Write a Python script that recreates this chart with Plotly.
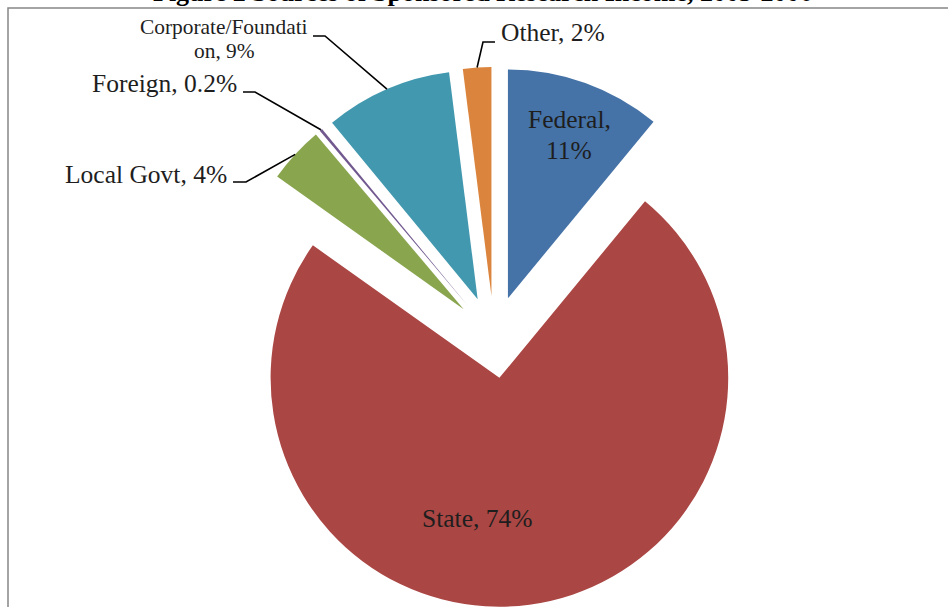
import math
import plotly.graph_objects as go

# ---- data ----
categories = ["Federal", "State", "Local Govt", "Foreign", "Corporate/Foundation", "Other"]
values = [11, 74, 4, 0.2, 9, 2]
value_labels = ["11%", "74%", "4%", "0.2%", "9%", "2%"]
colors = ["#4572A7", "#AA4643", "#89A54E", "#71588F", "#4198AF", "#DB843D"]
title_text = "Figure 2 Sources of Sponsored Research Income, 2005-2006"

# ---- layout constants ----
W, H = 948, 607
PULL = 0.18
FONT = "Liberation Serif"
TXT = "#1e1e1e"
FS = 25.5
cx_px, cy_px = 494, 337
rx_px, ry_px = 280, 270
dom_x = [(cx_px - rx_px) / W, (cx_px + rx_px) / W]
dom_y = [(H - cy_px - ry_px) / H, (H - cy_px + ry_px) / H]

def px(x, y):
    return x / W, 1 - y / H

fig = go.Figure(go.Pie(
    labels=categories, values=values, sort=False, direction="clockwise",
    rotation=0, pull=[PULL] * len(values), textinfo="none",
    marker=dict(colors=colors, line=dict(width=0)),
    domain=dict(x=dom_x, y=dom_y), showlegend=False,
    hovertemplate="%{label}: %{value}%<extra></extra>",
))

# geometry replicating plotly's pie sizing, for leader lines
r = min(rx_px, ry_px) / (1 + PULL)
total = sum(values)
cum = 0
outer = {}
for cat, v in zip(categories, values):
    mid = math.radians((cum + v / 2) / total * 360)
    cum += v
    R = (1 + PULL) * r
    outer[cat] = (cx_px + R * math.sin(mid), cy_px - R * math.cos(mid))

annotations = []
shapes = []

def label(text, x, y, xanchor="center", size=FS, align="center"):
    ax, ay = px(x, y)
    annotations.append(dict(text=text, x=ax, y=ay, xref="paper", yref="paper",
                            xanchor=xanchor, yanchor="middle", showarrow=False,
                            align=align, font=dict(family=FONT, size=size, color=TXT)))

def leader(points):
    pts = [px(x, y) for x, y in points]
    path = "M " + " L ".join(f"{a},{b}" for a, b in pts)
    shapes.append(dict(type="path", path=path, xref="paper", yref="paper",
                       line=dict(color="#000000", width=1.6)))

# inside labels
label(f"{categories[0]},", 569, 120)
label(value_labels[0], 569, 151)
label(f"{categories[1]}, {value_labels[1]}", 477, 518)

# outside labels
label(f"{categories[2]}, {value_labels[2]}", 229, 174, xanchor="right")
leader([(233, 182), (246, 182), outer[categories[2]]])

label(f"{categories[3]}, {value_labels[3]}", 239, 84, xanchor="right")
leader([(243, 92), (255, 92), outer[categories[3]]])

label("Corporate/Foundati", 224, 27, size=21.4)
label(f"on, {value_labels[4]}", 224, 51, size=21.4)
leader([(313, 36), (325, 36), outer[categories[4]]])

label(f"{categories[5]}, {value_labels[5]}", 499, 33, xanchor="left")
leader([(495, 42), (483, 42), outer[categories[5]]])

# title (mostly cropped above the frame)
annotations.append(dict(text=f"<b>{title_text}</b>", x=483 / W, y=1 + 8 / H,
                        xref="paper", yref="paper", xanchor="center", yanchor="middle",
                        showarrow=False, font=dict(family=FONT, size=26, color="#000000")))

# frame
shapes.append(dict(type="rect", xref="paper", yref="paper",
                   x0=8 / W, x1=1.05, y0=-0.05, y1=1 - 8 / H,
                   line=dict(color="#868686", width=1.5), fillcolor="rgba(0,0,0,0)"))

fig.update_layout(width=W, height=H, margin=dict(l=0, r=0, t=0, b=0),
                  paper_bgcolor="white", plot_bgcolor="white",
                  annotations=annotations, shapes=shapes,
                  font=dict(family=FONT, color=TXT))
fig.write_html("out.html", config={"displayModeBar": False},
               post_script="document.body.style.margin='0';document.body.style.overflow='hidden';")
